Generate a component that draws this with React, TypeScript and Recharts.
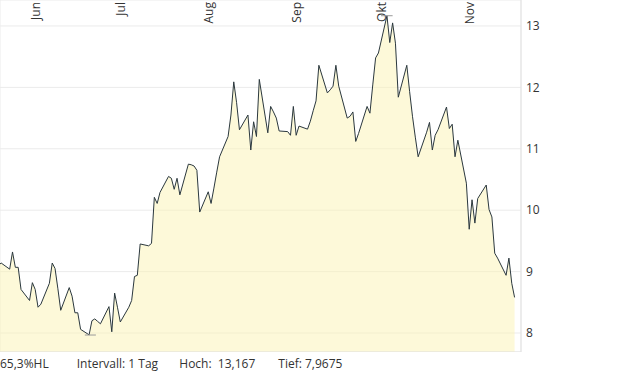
import React from 'react';
import { ComposedChart, Area, XAxis, YAxis, CartesianGrid, ReferenceLine } from 'recharts';

const YEAR = 2025;
const FONT = '"Open Sans", "Noto Sans", sans-serif';

// Daily closing values (weekdays), per month
const mayValues = [9.1, 9.14, 9.04, 9.32, 9.07, 9.07, 8.71];
const junValues = [
  8.53, 8.82, 8.71, 8.42, 8.47,
  8.81, 9.14, 9.05, 8.72, 8.37,
  8.74, 8.6, 8.33, 8.33, 8.06,
  7.97, 8.2, 8.23, 8.19, 8.15,
  8.43,
];
const julValues = [
  8.02, 8.65, 8.42, 8.18,
  8.42, 8.53, 8.92, 8.94, 9.45,
  9.42, 9.46, 10.21, 10.11, 10.29,
  10.55, 10.52, 10.34, 10.52, 10.25,
  10.75, 10.74, 10.72, 10.65,
];
const augValues = [
  9.97,
  10.3, 10.11, 10.36, 10.62, 10.87,
  11.2, 11.55, 12.09, 11.75, 11.31,
  11.55, 10.98, 11.44, 11.2, 12.13,
  11.26, 11.69, 11.6, 11.5, 11.29,
];
const sepValues = [
  11.28, 11.22, 11.69, 11.22, 11.37,
  11.32, 11.45, 11.62, 11.78, 12.36,
  11.91, 11.96, 12.02, 12.36, 12.02,
  11.5, 11.53, 11.6, 11.12, 11.25,
  11.69, 11.58,
];
const oktValues = [
  12.04, 12.48, 12.56,
  13.167, 12.73, 13.05, 12.72, 11.84,
  12.36, 11.93, 11.53, 11.19, 10.87,
  11.27, 11.43, 10.98, 11.22, 11.31,
  11.68, 11.33, 11.4, 10.87, 11.14,
];
const novValues = [
  10.44, 9.69, 10.17, 9.79, 10.19,
  10.41, 10.01, 9.89, 9.3, 9.22,
  8.94, 9.22, 8.81, 8.58,
];

const monthBlocks = [
  { month: 4, startDay: 22, values: mayValues },
  { month: 5, startDay: 1, values: junValues },
  { month: 6, startDay: 1, values: julValues },
  { month: 7, startDay: 1, values: augValues },
  { month: 8, startDay: 1, values: sepValues },
  { month: 9, startDay: 1, values: oktValues },
  { month: 10, startDay: 1, values: novValues },
];

const monthLabels = ['Jun', 'Jul', 'Aug', 'Sep', 'Okt', 'Nov'];
const monthTickIndex = [5, 6, 7, 8, 9, 10];
const yTicks = [8, 9, 10, 11, 12, 13];

const highValue = 13.167;
const lowValue = 7.9675;
const highDate = { month: 9, day: 6 };
const lowDate = { month: 5, day: 23 };

const infoTexts = [
  { text: '65,3%HL', x: 0 },
  { text: 'Intervall: 1 Tag', x: 76.7 },
  { text: 'Hoch:  13,167', x: 179.3 },
  { text: 'Tief: 7,9675', x: 278.3 },
];

const dayNum = (m: number, d: number) => Date.UTC(YEAR, m, d) / 86400000;

const data: { t: number; v: number }[] = [];
monthBlocks.forEach((b) => {
  let d = b.startDay;
  let i = 0;
  while (i < b.values.length) {
    const wd = new Date(Date.UTC(YEAR, b.month, d)).getUTCDay();
    if (wd !== 0 && wd !== 6) {
      data.push({ t: dayNum(b.month, d), v: b.values[i] });
      i++;
    }
    d++;
  }
});

const jun1 = dayNum(5, 1);
const xDomain = [jun1 - 9.41, jun1 + 174.26];
const yDomain = [7.691, 13.423];
const monthTicks = monthTickIndex.map((m) => dayNum(m, 1));

const makeMonthLabel = (text: string) => (props: any) => {
  const vb = props.viewBox || {};
  const x = vb.x ?? 0;
  const y = vb.y ?? 0;
  return (
    <text
      transform={`translate(${x + 13.5}, ${y + 2}) rotate(-90)`}
      textAnchor="end"
      fontSize={12}
      fill="#333"
      fontFamily={FONT}
    >
      {text}
    </text>
  );
};

const hx = dayNum(highDate.month, highDate.day);
const lx = dayNum(lowDate.month, lowDate.day);

export default function App() {
  return (
    <div style={{ position: 'absolute', left: 0, top: 0, width: 620, height: 372, background: '#fff', fontFamily: FONT }}>
      <ComposedChart width={620} height={352} data={data} margin={{ top: 0, right: 0, bottom: 0, left: 0 }}>
        <CartesianGrid stroke="#ebebeb" strokeWidth={1} />
        <XAxis
          dataKey="t"
          type="number"
          domain={xDomain}
          allowDataOverflow
          ticks={monthTicks}
          orientation="top"
          height={0}
          axisLine={false}
          tickLine={false}
          tick={false}
          interval={0}
        />
        <YAxis
          orientation="right"
          width={99}
          domain={yDomain}
          allowDataOverflow
          ticks={yTicks}
          tickLine={false}
          tickSize={0}
          tickMargin={5}
          axisLine={{ stroke: '#e3e3e3' }}
          tick={{ fill: '#333', fontSize: 12, fontFamily: FONT }}
          interval={0}
        />
        <Area
          type="linear"
          dataKey="v"
          stroke="#2b383e"
          strokeWidth={1}
          fill="#fcf4b4"
          fillOpacity={0.5}
          isAnimationActive={false}
          dot={false}
          activeDot={false}
        />
        <ReferenceLine y={yDomain[0]} stroke="#e3e3e3" />
        {monthTicks.map((t, i) => (
          <ReferenceLine key={t} x={t} stroke="none" label={makeMonthLabel(monthLabels[i])} />
        ))}
        <ReferenceLine
          segment={[{ x: hx - 2.1, y: highValue }, { x: hx + 2.0, y: highValue }]}
          stroke="#999"
        />
        <ReferenceLine
          segment={[{ x: lx - 1.5, y: lowValue }, { x: lx + 2.4, y: lowValue }]}
          stroke="#999"
        />
      </ComposedChart>
      <svg width={620} height={20} style={{ position: 'absolute', left: 0, top: 352 }}>
        {infoTexts.map((it) => (
          <text key={it.text} x={it.x} y={16} fontSize={12} fill="#333" fontFamily={FONT} style={{ whiteSpace: 'pre' }}>
            {it.text}
          </text>
        ))}
      </svg>
    </div>
  );
}
